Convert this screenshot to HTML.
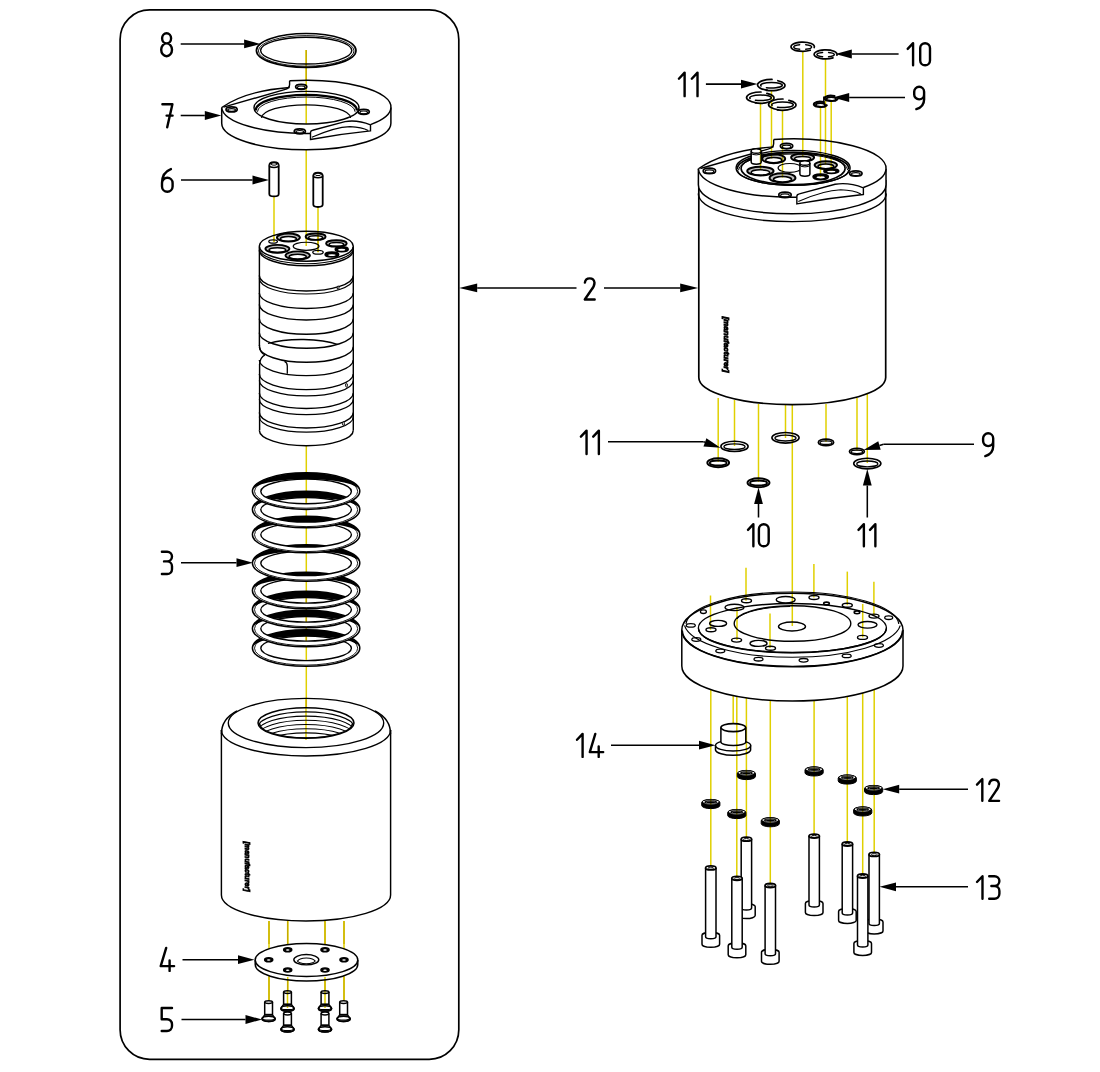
<!DOCTYPE html><html><head><meta charset="utf-8"><style>html,body{margin:0;padding:0;background:#fff;}svg{display:block;}</style></head><body>
<svg width="1100" height="1072" viewBox="0 0 1100 1072">
<rect width="1100" height="1072" fill="#fff"/>
<rect x="120.1" y="9.9" width="338.7" height="1049.4" rx="29.5" ry="29.5" fill="none" stroke="#000" stroke-width="1.7"/>
<line x1="306.2" y1="50" x2="306.2" y2="124" stroke="#e0d000" stroke-width="1.5" style="mix-blend-mode:multiply"/>
<line x1="306.2" y1="150" x2="306.2" y2="232" stroke="#e0d000" stroke-width="1.5" style="mix-blend-mode:multiply"/>
<line x1="306.3" y1="446" x2="306.3" y2="474" stroke="#e0d000" stroke-width="1.5" style="mix-blend-mode:multiply"/>
<line x1="306.3" y1="664" x2="306.3" y2="707" stroke="#e0d000" stroke-width="1.5" style="mix-blend-mode:multiply"/>
<line x1="274" y1="196" x2="274" y2="242" stroke="#e0d000" stroke-width="1.5" style="mix-blend-mode:multiply"/>
<line x1="318" y1="207" x2="318" y2="252" stroke="#e0d000" stroke-width="1.5" style="mix-blend-mode:multiply"/>
<ellipse cx="306.2" cy="50.4" rx="49.8" ry="16.9" fill="none" stroke="#000" stroke-width="1.7" />
<ellipse cx="306.2" cy="50.9" rx="47.8" ry="15.3" fill="none" stroke="#000" stroke-width="0.9" />
<ellipse cx="306.2" cy="50.6" rx="45.6" ry="13.4" fill="none" stroke="#000" stroke-width="1.4" />
<path d="M221.7,107.5 V123.3 A84.6,26.5 0 0 0 390.9,123.3 V107.5" fill="#fff" stroke="#000" stroke-width="1.5" />
<ellipse cx="306.3" cy="107.5" rx="84.6" ry="26.5" fill="#fff" stroke="none" stroke-width="0" />
<path d="M221.7,107.5 C238,96 262,89.5 289.6,87.5" fill="none" stroke="#000" stroke-width="1.4" />
<path d="M223.5,107.2 L284.5,89.6 Q289.6,88.4 289.6,84.5 V80.8" fill="none" stroke="#000" stroke-width="1.4" />
<path d="M289.6,80.8 A84.6,26.5 0 0 1 390.9,107.5 A84.6,26.5 0 0 1 370.5,124.6" fill="none" stroke="#000" stroke-width="1.5" />
<path d="M221.7,107.5 A84.6,26.5 0 0 0 310.5,133.4" fill="none" stroke="#000" stroke-width="1.5" />
<path d="M310.5,132.5 Q310.5,130.8 312.7,130.3 L345,121.6 Q357,119.5 370.5,124.8 V130.9 Q340,134 310.5,139.5 Z" fill="#fff" stroke="#000" stroke-width="1.4" />
<path d="M311.8,137.3 Q335,127 350,126.6 Q362,127 368.2,130.5" fill="none" stroke="#000" stroke-width="1.1" />
<ellipse cx="301.2" cy="86.8" rx="5.6" ry="2.5" fill="none" stroke="#000" stroke-width="1.7" />
<ellipse cx="301.2" cy="87.4" rx="3.9" ry="1.4" fill="none" stroke="#000" stroke-width="1.2" />
<ellipse cx="231.6" cy="109.4" rx="5.6" ry="2.5" fill="none" stroke="#000" stroke-width="1.7" />
<ellipse cx="231.6" cy="110" rx="3.9" ry="1.4" fill="none" stroke="#000" stroke-width="1.2" />
<ellipse cx="363.7" cy="111.8" rx="5.6" ry="2.5" fill="none" stroke="#000" stroke-width="1.7" />
<ellipse cx="363.7" cy="112.4" rx="3.9" ry="1.4" fill="none" stroke="#000" stroke-width="1.2" />
<ellipse cx="299.8" cy="131.3" rx="5.6" ry="2.5" fill="none" stroke="#000" stroke-width="1.7" />
<ellipse cx="299.8" cy="131.9" rx="3.9" ry="1.4" fill="none" stroke="#000" stroke-width="1.2" />
<ellipse cx="306.5" cy="107.7" rx="52.5" ry="16.3" fill="none" stroke="#000" stroke-width="1.45" />
<path d="M255.7,110.5 A50.6,15.6 0 0 1 356.9,110.5" fill="none" stroke="#000" stroke-width="2.4" />
<path d="M257.5,111.8 A48.8,14.8 0 0 1 355.1,111.8" fill="none" stroke="#000" stroke-width="1" />
<path d="M261.6,118 A44.5,13.2 0 0 1 350.6,118" fill="none" stroke="#000" stroke-width="1.3" />
<line x1="306.2" y1="50" x2="306.2" y2="124" stroke="#e0d000" stroke-width="1.5" style="mix-blend-mode:multiply"/>
<path d="M269.3,165.6 V194 A4.7,2.4 0 0 0 278.7,194 V165.6" fill="#fff" stroke="#000" stroke-width="1.8" />
<path d="M269.3,165.6 Q269.3,162.2 274,162.2 Q278.7,162.2 278.7,165.6" fill="#fff" stroke="#000" stroke-width="1.8" />
<path d="M269.3,165.2 A4.7,2.2 0 0 0 278.7,165.2" fill="none" stroke="#000" stroke-width="1.5" />
<ellipse cx="274" cy="164" rx="2.91" ry="1.2" fill="none" stroke="#000" stroke-width="1" />
<path d="M313.3,176 V204.6 A4.7,2.4 0 0 0 322.7,204.6 V176" fill="#fff" stroke="#000" stroke-width="1.8" />
<path d="M313.3,176 Q313.3,172.6 318,172.6 Q322.7,172.6 322.7,176" fill="#fff" stroke="#000" stroke-width="1.8" />
<path d="M313.3,175.6 A4.7,2.2 0 0 0 322.7,175.6" fill="none" stroke="#000" stroke-width="1.5" />
<ellipse cx="318" cy="174.4" rx="2.91" ry="1.2" fill="none" stroke="#000" stroke-width="1" />
<line x1="259.4" y1="247" x2="259.4" y2="346" stroke="#000" stroke-width="1.45"/>
<line x1="259.6" y1="364" x2="259.6" y2="430.2" stroke="#000" stroke-width="1.45"/>
<line x1="353.3" y1="247" x2="353.3" y2="430.2" stroke="#000" stroke-width="1.45"/>
<path d="M259.4,345 Q259.6,352.5 265,355" fill="none" stroke="#000" stroke-width="1.35" />
<path d="M265,354.8 Q259.8,357.5 259.6,364.5" fill="none" stroke="#000" stroke-width="1.35" />
<path d="M259.3,430.2 A47,15.5 0 0 0 353.3,430.2" fill="none" stroke="#000" stroke-width="1.45" />
<ellipse cx="306.3" cy="246.2" rx="47" ry="15" fill="none" stroke="#000" stroke-width="1.5" />
<path d="M259.3,248.5 A47,15.2 0 0 0 353.3,248.5" fill="none" stroke="#000" stroke-width="1.1" />
<path d="M259.3,250.3 A47,15.5 0 0 0 353.3,250.3" fill="none" stroke="#000" stroke-width="1.5" />
<path d="M259.3,275.5 A47,15.5 0 0 0 353.3,275.5" fill="none" stroke="#000" stroke-width="1.4" />
<path d="M259.3,278.5 A47,15.5 0 0 0 353.3,278.5" fill="none" stroke="#000" stroke-width="1.2" />
<path d="M259.3,293 A47,15.5 0 0 0 353.3,293" fill="none" stroke="#000" stroke-width="1.4" />
<path d="M259.3,304.5 A47,15.5 0 0 0 353.3,304.5" fill="none" stroke="#000" stroke-width="1.4" />
<path d="M259.3,318.8 A47,15.5 0 0 0 353.3,318.8" fill="none" stroke="#000" stroke-width="1.4" />
<path d="M259.3,332.8 A47,15.5 0 0 0 353.3,332.8" fill="none" stroke="#000" stroke-width="1.4" />
<path d="M259.3,346.8 A47,15.5 0 0 0 353.3,346.8" fill="none" stroke="#000" stroke-width="1.4" />
<path d="M259.3,360.1 A47,15.5 0 0 0 353.3,360.1" fill="none" stroke="#000" stroke-width="1.4" />
<path d="M259.3,374.1 A47,15.5 0 0 0 353.3,374.1" fill="none" stroke="#000" stroke-width="1.4" />
<path d="M259.3,380.4 A47,15.5 0 0 0 353.3,380.4" fill="none" stroke="#000" stroke-width="1.2" />
<path d="M259.3,393 A47,15.5 0 0 0 353.3,393" fill="none" stroke="#000" stroke-width="1.4" />
<path d="M259.3,399.2 A47,15.5 0 0 0 353.3,399.2" fill="none" stroke="#000" stroke-width="1.2" />
<path d="M259.3,412.5 A47,15.5 0 0 0 353.3,412.5" fill="none" stroke="#000" stroke-width="1.4" />
<path d="M259.3,416.7 A47,15.5 0 0 0 353.3,416.7" fill="none" stroke="#000" stroke-width="1.2" />
<path d="M268,343.5 A47,13.5 0 0 1 338,344.5" fill="none" stroke="#000" stroke-width="1.3" />
<path d="M284.5,361.4 Q287.3,362.5 287.3,366 V373.8" fill="none" stroke="#000" stroke-width="1.3" />
<ellipse cx="338.1" cy="287.8" rx="0.9" ry="1.9" fill="#fff" stroke="#000" stroke-width="1" />
<ellipse cx="346.5" cy="385.2" rx="0.9" ry="1.9" fill="#fff" stroke="#000" stroke-width="1" />
<ellipse cx="343.5" cy="423.7" rx="0.9" ry="1.9" fill="#fff" stroke="#000" stroke-width="1" />
<path d="M276.9,237.6 A11.5,4.05 0 1 1 299.9,237.6 A11.5,4.05 0 1 1 276.9,237.6 Z M280.35,238.9 A8.05,2.43 0 1 0 296.45,238.9 A8.05,2.43 0 1 0 280.35,238.9 Z" fill="#000" stroke="none" stroke-width="0" fill-rule="evenodd" fill-opacity="0.25"/>
<ellipse cx="288.4" cy="237.6" rx="11.5" ry="4.05" fill="none" stroke="#000" stroke-width="1.9" />
<ellipse cx="288.4" cy="238.9" rx="8.05" ry="2.43" fill="none" stroke="#000" stroke-width="1.5" />
<ellipse cx="273.1" cy="241.5" rx="4.3" ry="1.7" fill="none" stroke="#000" stroke-width="1.3" />
<path d="M305.6,236.7 A10,3.2 0 1 1 325.6,236.7 A10,3.2 0 1 1 305.6,236.7 Z M308.6,237.72 A7,1.92 0 1 0 322.6,237.72 A7,1.92 0 1 0 308.6,237.72 Z" fill="#000" stroke="none" stroke-width="0" fill-rule="evenodd" fill-opacity="0.25"/>
<ellipse cx="315.6" cy="236.7" rx="10" ry="3.2" fill="none" stroke="#000" stroke-width="1.9" />
<ellipse cx="315.6" cy="237.72" rx="7" ry="1.92" fill="none" stroke="#000" stroke-width="1.5" />
<path d="M326.1,243.4 A10.3,3.2 0 1 1 346.7,243.4 A10.3,3.2 0 1 1 326.1,243.4 Z M329.19,244.42 A7.21,1.92 0 1 0 343.61,244.42 A7.21,1.92 0 1 0 329.19,244.42 Z" fill="#000" stroke="none" stroke-width="0" fill-rule="evenodd" fill-opacity="0.25"/>
<ellipse cx="336.4" cy="243.4" rx="10.3" ry="3.2" fill="none" stroke="#000" stroke-width="1.9" />
<ellipse cx="336.4" cy="244.42" rx="7.21" ry="1.92" fill="none" stroke="#000" stroke-width="1.5" />
<ellipse cx="341.7" cy="249.3" rx="6.4" ry="2.4" fill="#000" stroke="#000" stroke-width="1.7" />
<ellipse cx="341.7" cy="249.8" rx="3.52" ry="0.96" fill="#fff" stroke="none" stroke-width="0" />
<path d="M265.4,248.8 A12,3.9 0 1 1 289.4,248.8 A12,3.9 0 1 1 265.4,248.8 Z M269,250.05 A8.4,2.34 0 1 0 285.8,250.05 A8.4,2.34 0 1 0 269,250.05 Z" fill="#000" stroke="none" stroke-width="0" fill-rule="evenodd" fill-opacity="0.25"/>
<ellipse cx="277.4" cy="248.8" rx="12" ry="3.9" fill="none" stroke="#000" stroke-width="1.9" />
<ellipse cx="277.4" cy="250.05" rx="8.4" ry="2.34" fill="none" stroke="#000" stroke-width="1.5" />
<path d="M285.5,255.4 A12.2,4.05 0 1 1 309.9,255.4 A12.2,4.05 0 1 1 285.5,255.4 Z M289.16,256.7 A8.54,2.43 0 1 0 306.24,256.7 A8.54,2.43 0 1 0 289.16,256.7 Z" fill="#000" stroke="none" stroke-width="0" fill-rule="evenodd" fill-opacity="0.25"/>
<ellipse cx="297.7" cy="255.4" rx="12.2" ry="4.05" fill="none" stroke="#000" stroke-width="1.9" />
<ellipse cx="297.7" cy="256.7" rx="8.54" ry="2.43" fill="none" stroke="#000" stroke-width="1.5" />
<ellipse cx="318" cy="252.2" rx="5.25" ry="1.9" fill="none" stroke="#000" stroke-width="1.3" />
<ellipse cx="331.9" cy="254.6" rx="6.7" ry="2.4" fill="#000" stroke="#000" stroke-width="1.7" />
<ellipse cx="331.9" cy="255.1" rx="3.69" ry="0.96" fill="#fff" stroke="none" stroke-width="0" />
<ellipse cx="306.1" cy="246.3" rx="12.9" ry="4.05" fill="none" stroke="#000" stroke-width="1.2" />
<line x1="274" y1="238" x2="274" y2="241.5" stroke="#e0d000" stroke-width="1.5" style="mix-blend-mode:multiply"/>
<line x1="306.2" y1="232" x2="306.2" y2="246" stroke="#e0d000" stroke-width="1.5" style="mix-blend-mode:multiply"/>
<line x1="318" y1="232" x2="318" y2="252.2" stroke="#e0d000" stroke-width="1.5" style="mix-blend-mode:multiply"/>
<path d="M252.4,648 A53.7,18.3 0 1 1 359.8,648 A53.7,18.3 0 1 1 252.4,648 Z M260.8,648.3 A45.3,12.3 0 1 0 351.4,648.3 A45.3,12.3 0 1 0 260.8,648.3 Z" fill="#fff" stroke="none" stroke-width="0" fill-rule="evenodd"/>
<path d="M252.4,648 A53.7,18.3 0 0 1 359.8,648 A53.7,12.0 0 0 0 252.4,648 Z" fill="#000" stroke="none" stroke-width="0" />
<ellipse cx="306.1" cy="648" rx="53.7" ry="18.3" fill="none" stroke="#000" stroke-width="1.5" />
<ellipse cx="306.1" cy="648.2" rx="51.6" ry="16.9" fill="none" stroke="#000" stroke-width="0.9" />
<ellipse cx="306.1" cy="648.3" rx="45.3" ry="12.3" fill="none" stroke="#000" stroke-width="1.4" />
<line x1="306.3" y1="636" x2="306.3" y2="660.5" stroke="#e0d000" stroke-width="1.5" style="mix-blend-mode:multiply"/>
<path d="M252.4,628.5 A53.7,18.3 0 1 1 359.8,628.5 A53.7,18.3 0 1 1 252.4,628.5 Z M260.8,628.8 A45.3,12.3 0 1 0 351.4,628.8 A45.3,12.3 0 1 0 260.8,628.8 Z" fill="#fff" stroke="none" stroke-width="0" fill-rule="evenodd"/>
<path d="M252.4,628.5 A53.7,18.3 0 0 1 359.8,628.5 A53.7,12.0 0 0 0 252.4,628.5 Z" fill="#000" stroke="none" stroke-width="0" />
<ellipse cx="306.1" cy="628.5" rx="53.7" ry="18.3" fill="none" stroke="#000" stroke-width="1.5" />
<ellipse cx="306.1" cy="628.7" rx="51.6" ry="16.9" fill="none" stroke="#000" stroke-width="0.9" />
<ellipse cx="306.1" cy="628.8" rx="45.3" ry="12.3" fill="none" stroke="#000" stroke-width="1.4" />
<line x1="306.3" y1="616.5" x2="306.3" y2="641" stroke="#e0d000" stroke-width="1.5" style="mix-blend-mode:multiply"/>
<path d="M252.4,609.5 A53.7,18.3 0 1 1 359.8,609.5 A53.7,18.3 0 1 1 252.4,609.5 Z M260.8,609.8 A45.3,12.3 0 1 0 351.4,609.8 A45.3,12.3 0 1 0 260.8,609.8 Z" fill="#fff" stroke="none" stroke-width="0" fill-rule="evenodd"/>
<path d="M252.4,609.5 A53.7,18.3 0 0 1 359.8,609.5 A53.7,12.0 0 0 0 252.4,609.5 Z" fill="#000" stroke="none" stroke-width="0" />
<ellipse cx="306.1" cy="609.5" rx="53.7" ry="18.3" fill="none" stroke="#000" stroke-width="1.5" />
<ellipse cx="306.1" cy="609.7" rx="51.6" ry="16.9" fill="none" stroke="#000" stroke-width="0.9" />
<ellipse cx="306.1" cy="609.8" rx="45.3" ry="12.3" fill="none" stroke="#000" stroke-width="1.4" />
<line x1="306.3" y1="597.5" x2="306.3" y2="622" stroke="#e0d000" stroke-width="1.5" style="mix-blend-mode:multiply"/>
<path d="M252.4,590.5 A53.7,18.3 0 1 1 359.8,590.5 A53.7,18.3 0 1 1 252.4,590.5 Z M260.8,590.8 A45.3,12.3 0 1 0 351.4,590.8 A45.3,12.3 0 1 0 260.8,590.8 Z" fill="#fff" stroke="none" stroke-width="0" fill-rule="evenodd"/>
<path d="M252.4,590.5 A53.7,18.3 0 0 1 359.8,590.5 A53.7,12.0 0 0 0 252.4,590.5 Z" fill="#000" stroke="none" stroke-width="0" />
<ellipse cx="306.1" cy="590.5" rx="53.7" ry="18.3" fill="none" stroke="#000" stroke-width="1.5" />
<ellipse cx="306.1" cy="590.7" rx="51.6" ry="16.9" fill="none" stroke="#000" stroke-width="0.9" />
<ellipse cx="306.1" cy="590.8" rx="45.3" ry="12.3" fill="none" stroke="#000" stroke-width="1.4" />
<line x1="306.3" y1="578.5" x2="306.3" y2="603" stroke="#e0d000" stroke-width="1.5" style="mix-blend-mode:multiply"/>
<path d="M252.4,563 A53.7,18.3 0 1 1 359.8,563 A53.7,18.3 0 1 1 252.4,563 Z M260.8,563.3 A45.3,12.3 0 1 0 351.4,563.3 A45.3,12.3 0 1 0 260.8,563.3 Z" fill="#fff" stroke="none" stroke-width="0" fill-rule="evenodd"/>
<path d="M252.4,563 A53.7,18.3 0 0 1 359.8,563 A53.7,12.0 0 0 0 252.4,563 Z" fill="#000" stroke="none" stroke-width="0" />
<ellipse cx="306.1" cy="563" rx="53.7" ry="18.3" fill="none" stroke="#000" stroke-width="1.5" />
<ellipse cx="306.1" cy="563.2" rx="51.6" ry="16.9" fill="none" stroke="#000" stroke-width="0.9" />
<ellipse cx="306.1" cy="563.3" rx="45.3" ry="12.3" fill="none" stroke="#000" stroke-width="1.4" />
<line x1="306.3" y1="551" x2="306.3" y2="575.5" stroke="#e0d000" stroke-width="1.5" style="mix-blend-mode:multiply"/>
<path d="M252.4,534.5 A53.7,18.3 0 1 1 359.8,534.5 A53.7,18.3 0 1 1 252.4,534.5 Z M260.8,534.8 A45.3,12.3 0 1 0 351.4,534.8 A45.3,12.3 0 1 0 260.8,534.8 Z" fill="#fff" stroke="none" stroke-width="0" fill-rule="evenodd"/>
<path d="M252.4,534.5 A53.7,18.3 0 0 1 359.8,534.5 A53.7,12.0 0 0 0 252.4,534.5 Z" fill="#000" stroke="none" stroke-width="0" />
<ellipse cx="306.1" cy="534.5" rx="53.7" ry="18.3" fill="none" stroke="#000" stroke-width="1.5" />
<ellipse cx="306.1" cy="534.7" rx="51.6" ry="16.9" fill="none" stroke="#000" stroke-width="0.9" />
<ellipse cx="306.1" cy="534.8" rx="45.3" ry="12.3" fill="none" stroke="#000" stroke-width="1.4" />
<line x1="306.3" y1="522.5" x2="306.3" y2="547" stroke="#e0d000" stroke-width="1.5" style="mix-blend-mode:multiply"/>
<path d="M252.4,509.5 A53.7,18.3 0 1 1 359.8,509.5 A53.7,18.3 0 1 1 252.4,509.5 Z M260.8,509.8 A45.3,12.3 0 1 0 351.4,509.8 A45.3,12.3 0 1 0 260.8,509.8 Z" fill="#fff" stroke="none" stroke-width="0" fill-rule="evenodd"/>
<path d="M252.4,509.5 A53.7,18.3 0 0 1 359.8,509.5 A53.7,12.0 0 0 0 252.4,509.5 Z" fill="#000" stroke="none" stroke-width="0" />
<ellipse cx="306.1" cy="509.5" rx="53.7" ry="18.3" fill="none" stroke="#000" stroke-width="1.5" />
<ellipse cx="306.1" cy="509.7" rx="51.6" ry="16.9" fill="none" stroke="#000" stroke-width="0.9" />
<ellipse cx="306.1" cy="509.8" rx="45.3" ry="12.3" fill="none" stroke="#000" stroke-width="1.4" />
<line x1="306.3" y1="497.5" x2="306.3" y2="522" stroke="#e0d000" stroke-width="1.5" style="mix-blend-mode:multiply"/>
<path d="M252.4,491.1 A53.7,18.3 0 1 1 359.8,491.1 A53.7,18.3 0 1 1 252.4,491.1 Z M260.8,491.4 A45.3,12.3 0 1 0 351.4,491.4 A45.3,12.3 0 1 0 260.8,491.4 Z" fill="#fff" stroke="none" stroke-width="0" fill-rule="evenodd"/>
<path d="M252.4,491.1 A53.7,18.3 0 0 1 359.8,491.1 A53.7,12.0 0 0 0 252.4,491.1 Z" fill="#000" stroke="none" stroke-width="0" />
<ellipse cx="306.1" cy="491.1" rx="53.7" ry="18.3" fill="none" stroke="#000" stroke-width="1.5" />
<ellipse cx="306.1" cy="491.3" rx="51.6" ry="16.9" fill="none" stroke="#000" stroke-width="0.9" />
<ellipse cx="306.1" cy="491.4" rx="45.3" ry="12.3" fill="none" stroke="#000" stroke-width="1.4" />
<line x1="306.3" y1="479.1" x2="306.3" y2="503.6" stroke="#e0d000" stroke-width="1.5" style="mix-blend-mode:multiply"/>
<path d="M221.4,730 V895 A84.6,26 0 0 0 390.6,895 V730" fill="#fff" stroke="#000" stroke-width="1.45" />
<path d="M221.4,730 A84.6,26 0 0 0 390.6,730" fill="none" stroke="#000" stroke-width="1.4" />
<ellipse cx="306" cy="723" rx="77.7" ry="24.6" fill="none" stroke="#000" stroke-width="1.4" />
<path d="M221.5,734 C221.3,724 226,716.5 237,710.8" fill="none" stroke="#000" stroke-width="1.5" />
<path d="M390.5,734 C390.7,724 386,716.5 375,710.8" fill="none" stroke="#000" stroke-width="1.5" />
<ellipse cx="306" cy="723" rx="48" ry="15.3" fill="none" stroke="#000" stroke-width="1.5" />
<clipPath id="boreclip"><ellipse cx="306" cy="723" rx="48" ry="15.3"/></clipPath>
<g clip-path="url(#boreclip)">
<path d="M258,727.2 A48,15.3 0 0 1 354,727.2" fill="none" stroke="#000" stroke-width="1.1" />
<path d="M258,731.4 A48,15.3 0 0 1 354,731.4" fill="none" stroke="#000" stroke-width="1.1" />
<path d="M258,735.6 A48,15.3 0 0 1 354,735.6" fill="none" stroke="#000" stroke-width="1.1" />
<path d="M258,739.8 A48,15.3 0 0 1 354,739.8" fill="none" stroke="#000" stroke-width="1.1" />
<path d="M258,744 A48,15.3 0 0 1 354,744" fill="none" stroke="#000" stroke-width="1.1" />
<path d="M258,748.2 A48,15.3 0 0 1 354,748.2" fill="none" stroke="#000" stroke-width="1.1" />
<path d="M259.5,723.5 A46.5,14.6 0 0 0 352.5,723.5" fill="none" stroke="#000" stroke-width="1.6" />
</g>
<line x1="306" y1="699" x2="306" y2="740" stroke="#e0d000" stroke-width="1.5" style="mix-blend-mode:multiply"/>
<g transform="translate(247.8,866.5) rotate(90)"><text x="-25" y="0" textLength="50" lengthAdjust="spacingAndGlyphs" dominant-baseline="central" font-family="Liberation Sans, sans-serif" font-weight="bold" font-style="italic" font-size="8" fill="#000" stroke="#000" stroke-width="0.9">[manufacturer]</text></g>
<line x1="269" y1="921" x2="269" y2="1010" stroke="#e0d000" stroke-width="1.5" style="mix-blend-mode:multiply"/>
<line x1="287.7" y1="921" x2="287.7" y2="1010" stroke="#e0d000" stroke-width="1.5" style="mix-blend-mode:multiply"/>
<line x1="325" y1="921" x2="325" y2="1010" stroke="#e0d000" stroke-width="1.5" style="mix-blend-mode:multiply"/>
<line x1="344" y1="921" x2="344" y2="1010" stroke="#e0d000" stroke-width="1.5" style="mix-blend-mode:multiply"/>
<path d="M255.2,960 V964.6 A51.3,16.4 0 0 0 357.8,964.6 V960" fill="#fff" stroke="#000" stroke-width="1.45" />
<ellipse cx="306.5" cy="960" rx="51.3" ry="16.4" fill="#fff" stroke="#000" stroke-width="1.5" />
<ellipse cx="306.3" cy="959.7" rx="12.5" ry="5.2" fill="none" stroke="#000" stroke-width="1.4" />
<path d="M297.3,960.5 A9,3.2 0 0 0 315.3,960.5" fill="none" stroke="#000" stroke-width="1.1" />
<path d="M297.8,961.2 A8.5,3.2 0 0 1 314.8,961.2" fill="none" stroke="#000" stroke-width="1.1" />
<ellipse cx="268.7" cy="959.7" rx="4" ry="2" fill="#000" stroke="#000" stroke-width="1.6" />
<ellipse cx="268.7" cy="960" rx="1.8" ry="0.7" fill="#fff" stroke="none" stroke-width="0" />
<ellipse cx="287.7" cy="949.7" rx="4" ry="2" fill="#000" stroke="#000" stroke-width="1.6" />
<ellipse cx="287.7" cy="950" rx="1.8" ry="0.7" fill="#fff" stroke="none" stroke-width="0" />
<ellipse cx="325" cy="949.7" rx="4" ry="2" fill="#000" stroke="#000" stroke-width="1.6" />
<ellipse cx="325" cy="950" rx="1.8" ry="0.7" fill="#fff" stroke="none" stroke-width="0" />
<ellipse cx="344" cy="959.7" rx="4" ry="2" fill="#000" stroke="#000" stroke-width="1.6" />
<ellipse cx="344" cy="960" rx="1.8" ry="0.7" fill="#fff" stroke="none" stroke-width="0" />
<ellipse cx="287.7" cy="970" rx="4" ry="2" fill="#000" stroke="#000" stroke-width="1.6" />
<ellipse cx="287.7" cy="970.3" rx="1.8" ry="0.7" fill="#fff" stroke="none" stroke-width="0" />
<ellipse cx="325" cy="970" rx="4" ry="2" fill="#000" stroke="#000" stroke-width="1.6" />
<ellipse cx="325" cy="970.3" rx="1.8" ry="0.7" fill="#fff" stroke="none" stroke-width="0" />
<line x1="269" y1="921" x2="269" y2="944" stroke="#e0d000" stroke-width="1.5" style="mix-blend-mode:multiply"/>
<line x1="269" y1="977" x2="269" y2="1002" stroke="#e0d000" stroke-width="1.5" style="mix-blend-mode:multiply"/>
<line x1="287.7" y1="921" x2="287.7" y2="944" stroke="#e0d000" stroke-width="1.5" style="mix-blend-mode:multiply"/>
<line x1="287.7" y1="977" x2="287.7" y2="1002" stroke="#e0d000" stroke-width="1.5" style="mix-blend-mode:multiply"/>
<line x1="325" y1="921" x2="325" y2="944" stroke="#e0d000" stroke-width="1.5" style="mix-blend-mode:multiply"/>
<line x1="325" y1="977" x2="325" y2="1002" stroke="#e0d000" stroke-width="1.5" style="mix-blend-mode:multiply"/>
<line x1="344" y1="921" x2="344" y2="944" stroke="#e0d000" stroke-width="1.5" style="mix-blend-mode:multiply"/>
<line x1="344" y1="977" x2="344" y2="1002" stroke="#e0d000" stroke-width="1.5" style="mix-blend-mode:multiply"/>
<path d="M264.7,1002.1 V1014.8 L262,1018.8 A6.6,2.6 0 0 0 275.2,1018.8 L272.5,1014.8 V1002.1" fill="#fff" stroke="#000" stroke-width="1.5" />
<ellipse cx="268.6" cy="1002.1" rx="3.9" ry="1.4" fill="#fff" stroke="#000" stroke-width="1.5" />
<path d="M264.7,1013.8 H272.5 V1015.8 H264.7 Z" fill="#000" stroke="#000" stroke-width="0" />
<path d="M262.4,1018.3 A6.2,1.8 0 0 0 274.8,1018.3" fill="none" stroke="#000" stroke-width="1.2" />
<ellipse cx="268.6" cy="1018.8" rx="6.6" ry="2.6" fill="none" stroke="#000" stroke-width="1.5" />
<path d="M339.7,1002.1 V1014.8 L337,1018.8 A6.6,2.6 0 0 0 350.2,1018.8 L347.5,1014.8 V1002.1" fill="#fff" stroke="#000" stroke-width="1.5" />
<ellipse cx="343.6" cy="1002.1" rx="3.9" ry="1.4" fill="#fff" stroke="#000" stroke-width="1.5" />
<path d="M339.7,1013.8 H347.5 V1015.8 H339.7 Z" fill="#000" stroke="#000" stroke-width="0" />
<path d="M337.4,1018.3 A6.2,1.8 0 0 0 349.8,1018.3" fill="none" stroke="#000" stroke-width="1.2" />
<ellipse cx="343.6" cy="1018.8" rx="6.6" ry="2.6" fill="none" stroke="#000" stroke-width="1.5" />
<path d="M283.6,1013.5 V1025.3 L280.9,1029.3 A6.6,2.6 0 0 0 294.1,1029.3 L291.4,1025.3 V1013.5" fill="#fff" stroke="#000" stroke-width="1.5" />
<ellipse cx="287.5" cy="1013.5" rx="3.9" ry="1.4" fill="#fff" stroke="#000" stroke-width="1.5" />
<path d="M283.6,1024.3 H291.4 V1026.3 H283.6 Z" fill="#000" stroke="#000" stroke-width="0" />
<path d="M281.3,1028.8 A6.2,1.8 0 0 0 293.7,1028.8" fill="none" stroke="#000" stroke-width="1.2" />
<ellipse cx="287.5" cy="1029.3" rx="6.6" ry="2.6" fill="none" stroke="#000" stroke-width="1.5" />
<path d="M283.6,992.1 V1004.4 L280.9,1008.4 A6.6,2.6 0 0 0 294.1,1008.4 L291.4,1004.4 V992.1" fill="#fff" stroke="#000" stroke-width="1.5" />
<ellipse cx="287.5" cy="992.1" rx="3.9" ry="1.4" fill="#fff" stroke="#000" stroke-width="1.5" />
<path d="M283.6,1003.4 H291.4 V1005.4 H283.6 Z" fill="#000" stroke="#000" stroke-width="0" />
<path d="M281.3,1007.9 A6.2,1.8 0 0 0 293.7,1007.9" fill="none" stroke="#000" stroke-width="1.2" />
<ellipse cx="287.5" cy="1008.4" rx="6.6" ry="2.6" fill="none" stroke="#000" stroke-width="1.5" />
<line x1="287.5" y1="990" x2="287.5" y2="1008" stroke="#e0d000" stroke-width="1.5" style="mix-blend-mode:multiply"/>
<path d="M321.1,1013.5 V1025.3 L318.4,1029.3 A6.6,2.6 0 0 0 331.6,1029.3 L328.9,1025.3 V1013.5" fill="#fff" stroke="#000" stroke-width="1.5" />
<ellipse cx="325" cy="1013.5" rx="3.9" ry="1.4" fill="#fff" stroke="#000" stroke-width="1.5" />
<path d="M321.1,1024.3 H328.9 V1026.3 H321.1 Z" fill="#000" stroke="#000" stroke-width="0" />
<path d="M318.8,1028.8 A6.2,1.8 0 0 0 331.2,1028.8" fill="none" stroke="#000" stroke-width="1.2" />
<ellipse cx="325" cy="1029.3" rx="6.6" ry="2.6" fill="none" stroke="#000" stroke-width="1.5" />
<path d="M321.1,992.1 V1004.4 L318.4,1008.4 A6.6,2.6 0 0 0 331.6,1008.4 L328.9,1004.4 V992.1" fill="#fff" stroke="#000" stroke-width="1.5" />
<ellipse cx="325" cy="992.1" rx="3.9" ry="1.4" fill="#fff" stroke="#000" stroke-width="1.5" />
<path d="M321.1,1003.4 H328.9 V1005.4 H321.1 Z" fill="#000" stroke="#000" stroke-width="0" />
<path d="M318.8,1007.9 A6.2,1.8 0 0 0 331.2,1007.9" fill="none" stroke="#000" stroke-width="1.2" />
<ellipse cx="325" cy="1008.4" rx="6.6" ry="2.6" fill="none" stroke="#000" stroke-width="1.5" />
<line x1="325" y1="990" x2="325" y2="1008" stroke="#e0d000" stroke-width="1.5" style="mix-blend-mode:multiply"/>
<path transform="translate(161.2,33.2) scale(1)" d="M5.4,0 A4.5,5.1 0 1 1 5.4,10.2 A4.5,5.1 0 1 1 5.4,0 Z M5.4,10.2 A5.4,6.4 0 1 1 5.4,23 A5.4,6.4 0 1 1 5.4,10.2 Z" fill="none" stroke="#000" stroke-width="2.4" stroke-linecap="round" stroke-linejoin="round"/>
<path transform="translate(162.4,104.3) scale(1)" d="M0,0 H10 L4.8,23 M4.2,11.3 H10.2" fill="none" stroke="#000" stroke-width="2.4" stroke-linecap="round" stroke-linejoin="round"/>
<path transform="translate(162,168.8) scale(1)" d="M8.9,0.3 C3.5,2.3 0,7.5 0,14.3 V17.7 A5.3,5.3 0 0 0 10.6,17.7 V14.3 A5.3,5.3 0 0 0 0,14.3" fill="none" stroke="#000" stroke-width="2.4" stroke-linecap="round" stroke-linejoin="round"/>
<path transform="translate(161.9,551.7) scale(0.97)" d="M0,0 H5.4 A5,5 0 0 1 5.4,10 H2.2 M5.4,10 A5,5 0 0 1 10.4,15 V18 A5,5 0 0 1 5.4,23 H0" fill="none" stroke="#000" stroke-width="2.48" stroke-linecap="round" stroke-linejoin="round"/>
<path transform="translate(160.7,947.9) scale(1)" d="M5.5,0 L0,18.2 H13.4 M8.9,12.6 V23" fill="none" stroke="#000" stroke-width="2.41" stroke-linecap="round" stroke-linejoin="round"/>
<path transform="translate(161.7,1008) scale(1)" d="M10.3,0 H0 V11.2 H5.3 A5,5 0 0 1 10.3,16.2 V18 A5,5 0 0 1 5.3,23 H0" fill="none" stroke="#000" stroke-width="2.4" stroke-linecap="round" stroke-linejoin="round"/>
<line x1="180.7" y1="43.9" x2="244.1" y2="43.9" stroke="#000" stroke-width="1.55"/>
<path d="M260.6,43.9 L244.1,48.3 L244.1,39.5 Z" fill="#000"/>
<line x1="180.7" y1="115.5" x2="204.8" y2="115.5" stroke="#000" stroke-width="1.55"/>
<path d="M221.3,115.5 L204.8,119.9 L204.8,111.1 Z" fill="#000"/>
<line x1="181" y1="180" x2="252.5" y2="180" stroke="#000" stroke-width="1.55"/>
<path d="M269,180 L252.5,184.4 L252.5,175.6 Z" fill="#000"/>
<line x1="181" y1="562.7" x2="236.5" y2="562.7" stroke="#000" stroke-width="1.55"/>
<path d="M253,562.7 L236.5,567.1 L236.5,558.3 Z" fill="#000"/>
<line x1="182.5" y1="959.7" x2="238" y2="959.7" stroke="#000" stroke-width="1.55"/>
<path d="M254.5,959.7 L238,964.1 L238,955.3 Z" fill="#000"/>
<line x1="181.5" y1="1019.5" x2="245.5" y2="1019.5" stroke="#000" stroke-width="1.55"/>
<path d="M262,1019.5 L245.5,1023.9 L245.5,1015.1 Z" fill="#000"/>
<path transform="translate(584.8,277.7) scale(0.95)" d="M0.1,5.2 A5.1,5.2 0 0 1 10.2,5.2 C10.2,8.5 8.8,10.5 6.8,13 L0,23 H10.4" fill="none" stroke="#000" stroke-width="2.53" stroke-linecap="round" stroke-linejoin="round"/>
<line x1="576.5" y1="287.9" x2="477.2" y2="287.9" stroke="#000" stroke-width="1.55"/>
<path d="M459.2,287.9 L477.2,283.5 L477.2,292.3 Z" fill="#000"/>
<line x1="604" y1="287.9" x2="680.2" y2="287.9" stroke="#000" stroke-width="1.55"/>
<path d="M698.2,287.9 L680.2,292.3 L680.2,283.5 Z" fill="#000"/>
<path d="M810.22,50.22 A11.7,4.6 0 1 1 814.22,47.5" fill="none" stroke="#000" stroke-width="1.7" stroke-linecap="round"/>
<path d="M799.66,49.15 A8.89,2.39 0 0 1 799.66,44.65" fill="none" stroke="#000" stroke-width="1.5" stroke-linecap="round"/>
<path d="M805.74,44.65 A8.89,2.39 0 0 1 805.74,49.15" fill="none" stroke="#000" stroke-width="1.5" stroke-linecap="round"/>
<path d="M832.99,57.85 A11.5,4.5 0 1 1 836.93,55.18" fill="none" stroke="#000" stroke-width="1.7" stroke-linecap="round"/>
<path d="M822.61,56.8 A8.74,2.34 0 0 1 822.61,52.4" fill="none" stroke="#000" stroke-width="1.5" stroke-linecap="round"/>
<path d="M828.59,52.4 A8.74,2.34 0 0 1 828.59,56.8" fill="none" stroke="#000" stroke-width="1.5" stroke-linecap="round"/>
<path d="M767.2,90.13 A13.9,5.5 0 0 1 771.99,79.4" fill="none" stroke="#000" stroke-width="1.7" stroke-linecap="round"/>
<path d="M777.88,80.72 A13.6,5.3 0 0 1 766.41,90.31" fill="none" stroke="#000" stroke-width="1.7" stroke-linecap="round"/>
<path d="M761.07,85.92 A10.8,2.8 0 1 1 766.43,87.67" fill="none" stroke="#000" stroke-width="1.5" stroke-linecap="round"/>
<path d="M756.2,102.73 A13.9,5.5 0 0 1 760.99,92" fill="none" stroke="#000" stroke-width="1.7" stroke-linecap="round"/>
<path d="M766.88,93.32 A13.6,5.3 0 0 1 755.41,102.91" fill="none" stroke="#000" stroke-width="1.7" stroke-linecap="round"/>
<path d="M750.07,98.52 A10.8,2.8 0 1 1 755.43,100.27" fill="none" stroke="#000" stroke-width="1.5" stroke-linecap="round"/>
<path d="M778.2,109.73 A13.9,5.5 0 0 1 782.99,99" fill="none" stroke="#000" stroke-width="1.7" stroke-linecap="round"/>
<path d="M788.88,100.32 A13.6,5.3 0 0 1 777.41,109.91" fill="none" stroke="#000" stroke-width="1.7" stroke-linecap="round"/>
<path d="M772.07,105.52 A10.8,2.8 0 1 1 777.43,107.27" fill="none" stroke="#000" stroke-width="1.5" stroke-linecap="round"/>
<path d="M826.7,105.19 A6.6,2.6 0 1 1 823.8,102.05" fill="none" stroke="#000" stroke-width="2.2" stroke-linecap="round"/>
<path d="M816.27,104.98 A4.5,1.4 0 1 1 824.73,104.98" fill="none" stroke="#000" stroke-width="1.8" stroke-linecap="round"/>
<path d="M837.4,99.19 A6.6,2.6 0 1 1 834.5,96.05" fill="none" stroke="#000" stroke-width="2.2" stroke-linecap="round"/>
<path d="M826.97,98.98 A4.5,1.4 0 1 1 835.43,98.98" fill="none" stroke="#000" stroke-width="1.8" stroke-linecap="round"/>
<line x1="823.8" y1="96.5" x2="823.8" y2="104.5" stroke="#000" stroke-width="1.4"/>
<path d="M698.8,180 V377.6 A93.45,27 0 0 0 885.7,377.6 V180" fill="#fff" stroke="#000" stroke-width="1.7" />
<path d="M698.3,193.6 A94,28 0 0 0 886.3,193.6" fill="none" stroke="#000" stroke-width="1.4" />
<g transform="translate(726,344.5) rotate(90)"><text x="-27.75" y="0" textLength="55.5" lengthAdjust="spacingAndGlyphs" dominant-baseline="central" font-family="Liberation Sans, sans-serif" font-weight="bold" font-style="italic" font-size="8" fill="#000" stroke="#000" stroke-width="0.9">[manufacturer]</text></g>
<path d="M698.4,168.8 V184.8 A93.8,29.07 0 0 0 886,184.8 V168.8" fill="#fff" stroke="#000" stroke-width="1.5" />
<ellipse cx="792.2" cy="168.8" rx="93.8" ry="29.07" fill="#fff" stroke="none" stroke-width="0" />
<path d="M698.4,168.8 C716.47,156.18 743.08,149.05 773.68,146.86" fill="none" stroke="#000" stroke-width="1.4" />
<path d="M700.4,168.47 L768.03,149.16 Q773.68,147.85 773.68,143.57 V139.51" fill="none" stroke="#000" stroke-width="1.4" />
<path d="M773.68,139.51 A93.8,29.07 0 0 1 886,168.8 A93.8,29.07 0 0 1 863.38,187.56" fill="none" stroke="#000" stroke-width="1.5" />
<path d="M698.4,168.8 A93.8,29.07 0 0 0 796.86,197.21" fill="none" stroke="#000" stroke-width="1.5" />
<path d="M796.86,196.23 Q796.86,194.36 799.3,193.81 L835.11,184.27 Q848.41,181.96 863.38,187.78 V194.47 Q829.56,197.87 796.86,203.9 Z" fill="#fff" stroke="#000" stroke-width="1.4" />
<path d="M798.3,201.49 Q824.02,190.19 840.65,189.75 Q853.96,190.19 860.83,194.03" fill="none" stroke="#000" stroke-width="1.1" />
<ellipse cx="786.55" cy="146.09" rx="6.21" ry="2.74" fill="none" stroke="#000" stroke-width="1.7" />
<ellipse cx="786.55" cy="146.69" rx="4.32" ry="1.54" fill="none" stroke="#000" stroke-width="1.2" />
<ellipse cx="709.38" cy="170.88" rx="6.21" ry="2.74" fill="none" stroke="#000" stroke-width="1.7" />
<ellipse cx="709.38" cy="171.48" rx="4.32" ry="1.54" fill="none" stroke="#000" stroke-width="1.2" />
<ellipse cx="855.84" cy="173.52" rx="6.21" ry="2.74" fill="none" stroke="#000" stroke-width="1.7" />
<ellipse cx="855.84" cy="174.12" rx="4.32" ry="1.54" fill="none" stroke="#000" stroke-width="1.2" />
<ellipse cx="784.99" cy="194.91" rx="6.21" ry="2.74" fill="none" stroke="#000" stroke-width="1.7" />
<ellipse cx="784.99" cy="195.51" rx="4.32" ry="1.54" fill="none" stroke="#000" stroke-width="1.2" />
<ellipse cx="793.1" cy="167.9" rx="57" ry="17.5" fill="none" stroke="#000" stroke-width="1.4" />
<path d="M737.3,169 A55.8,16.8 0 0 1 848.9,169" fill="none" stroke="#000" stroke-width="1.6" />
<path d="M738.6,170 A54.5,16 0 0 1 847.6,170" fill="none" stroke="#000" stroke-width="1" />
<ellipse cx="793.1" cy="168.6" rx="52" ry="16" fill="none" stroke="#000" stroke-width="1.6" />
<path d="M737.6,169.6 A55.5,15.8 0 0 0 848.6,169.6" fill="none" stroke="#000" stroke-width="1.1" />
<path d="M762.2,158.8 A11.5,4.4 0 1 1 785.2,158.8 A11.5,4.4 0 1 1 762.2,158.8 Z M765.65,160.21 A8.05,2.64 0 1 0 781.75,160.21 A8.05,2.64 0 1 0 765.65,160.21 Z" fill="#000" stroke="none" stroke-width="0" fill-rule="evenodd" fill-opacity="0.25"/>
<ellipse cx="773.7" cy="158.8" rx="11.5" ry="4.4" fill="none" stroke="#000" stroke-width="1.9" />
<ellipse cx="773.7" cy="160.21" rx="8.05" ry="2.64" fill="none" stroke="#000" stroke-width="1.5" />
<path d="M791.1,157.5 A11.5,3.9 0 1 1 814.1,157.5 A11.5,3.9 0 1 1 791.1,157.5 Z M794.55,158.75 A8.05,2.34 0 1 0 810.65,158.75 A8.05,2.34 0 1 0 794.55,158.75 Z" fill="#000" stroke="none" stroke-width="0" fill-rule="evenodd" fill-opacity="0.25"/>
<ellipse cx="802.6" cy="157.5" rx="11.5" ry="3.9" fill="none" stroke="#000" stroke-width="1.9" />
<ellipse cx="802.6" cy="158.75" rx="8.05" ry="2.34" fill="none" stroke="#000" stroke-width="1.5" />
<path d="M814.6,165.1 A11.2,3.9 0 1 1 837,165.1 A11.2,3.9 0 1 1 814.6,165.1 Z M817.96,166.35 A7.84,2.34 0 1 0 833.64,166.35 A7.84,2.34 0 1 0 817.96,166.35 Z" fill="#000" stroke="none" stroke-width="0" fill-rule="evenodd" fill-opacity="0.25"/>
<ellipse cx="825.8" cy="165.1" rx="11.2" ry="3.9" fill="none" stroke="#000" stroke-width="1.9" />
<ellipse cx="825.8" cy="166.35" rx="7.84" ry="2.34" fill="none" stroke="#000" stroke-width="1.5" />
<ellipse cx="831.3" cy="171.1" rx="7.4" ry="2.3" fill="#000" stroke="#000" stroke-width="1.7" />
<ellipse cx="831.3" cy="171.6" rx="4.07" ry="0.92" fill="#fff" stroke="none" stroke-width="0" />
<path d="M747.2,171.1 A13.2,4.4 0 1 1 773.6,171.1 A13.2,4.4 0 1 1 747.2,171.1 Z M751.16,172.51 A9.24,2.64 0 1 0 769.64,172.51 A9.24,2.64 0 1 0 751.16,172.51 Z" fill="#000" stroke="none" stroke-width="0" fill-rule="evenodd" fill-opacity="0.25"/>
<ellipse cx="760.4" cy="171.1" rx="13.2" ry="4.4" fill="none" stroke="#000" stroke-width="1.9" />
<ellipse cx="760.4" cy="172.51" rx="9.24" ry="2.64" fill="none" stroke="#000" stroke-width="1.5" />
<path d="M769.5,177.9 A13,4.6 0 1 1 795.5,177.9 A13,4.6 0 1 1 769.5,177.9 Z M773.4,179.37 A9.1,2.76 0 1 0 791.6,179.37 A9.1,2.76 0 1 0 773.4,179.37 Z" fill="#000" stroke="none" stroke-width="0" fill-rule="evenodd" fill-opacity="0.25"/>
<ellipse cx="782.5" cy="177.9" rx="13" ry="4.6" fill="none" stroke="#000" stroke-width="1.9" />
<ellipse cx="782.5" cy="179.37" rx="9.1" ry="2.76" fill="none" stroke="#000" stroke-width="1.5" />
<ellipse cx="820.7" cy="176.8" rx="7.6" ry="2.8" fill="#000" stroke="#000" stroke-width="1.7" />
<ellipse cx="820.7" cy="177.3" rx="4.18" ry="1.12" fill="#fff" stroke="none" stroke-width="0" />
<ellipse cx="789.8" cy="167.9" rx="11.7" ry="4.4" fill="none" stroke="#000" stroke-width="1.2" />
<path d="M751.2,151 V162 A5,2.2 0 0 0 761.2,162 V151" fill="#fff" stroke="#000" stroke-width="1.5" />
<ellipse cx="756.2" cy="151" rx="5" ry="2.2" fill="#fff" stroke="#000" stroke-width="1.4" />
<path d="M751.2,152.9 A5,2 0 0 0 761.2,152.9" fill="none" stroke="#000" stroke-width="1" />
<path d="M799.9,163 V174 A5,2.2 0 0 0 809.9,174 V163" fill="#fff" stroke="#000" stroke-width="1.5" />
<ellipse cx="804.9" cy="163" rx="5" ry="2.2" fill="#fff" stroke="#000" stroke-width="1.4" />
<path d="M799.9,164.9 A5,2 0 0 0 809.9,164.9" fill="none" stroke="#000" stroke-width="1" />
<ellipse cx="734.5" cy="446.4" rx="13.6" ry="5.1" fill="#fff" stroke="#000" stroke-width="1.6" />
<ellipse cx="734.5" cy="446.7" rx="10.61" ry="2.81" fill="none" stroke="#000" stroke-width="1.3" />
<ellipse cx="718.2" cy="462.7" rx="10.9" ry="4.5" fill="#fff" stroke="#000" stroke-width="1.9" />
<ellipse cx="718.2" cy="463" rx="8.5" ry="2.48" fill="none" stroke="#000" stroke-width="1.8" />
<ellipse cx="785.5" cy="437.8" rx="13.6" ry="5.3" fill="#fff" stroke="#000" stroke-width="1.6" />
<ellipse cx="785.5" cy="438.1" rx="10.61" ry="2.92" fill="none" stroke="#000" stroke-width="1.3" />
<ellipse cx="826" cy="442.4" rx="7.7" ry="3.3" fill="#fff" stroke="#000" stroke-width="1.6" />
<ellipse cx="826" cy="442.7" rx="6.01" ry="1.81" fill="none" stroke="#000" stroke-width="1.3" />
<ellipse cx="856.9" cy="451.5" rx="7.5" ry="3.3" fill="#fff" stroke="#000" stroke-width="1.6" />
<ellipse cx="856.9" cy="451.8" rx="5.85" ry="1.81" fill="none" stroke="#000" stroke-width="1.3" />
<ellipse cx="867.3" cy="463.6" rx="13.6" ry="5.3" fill="#fff" stroke="#000" stroke-width="1.6" />
<ellipse cx="867.3" cy="463.9" rx="10.61" ry="2.92" fill="none" stroke="#000" stroke-width="1.3" />
<ellipse cx="758.5" cy="482.7" rx="11" ry="4.5" fill="#fff" stroke="#000" stroke-width="1.9" />
<ellipse cx="758.5" cy="483" rx="8.58" ry="2.48" fill="none" stroke="#000" stroke-width="1.8" />
<path d="M681.8,630 V666 A110.6,35 0 0 0 903,666 V630" fill="#fff" stroke="#000" stroke-width="1.5" />
<ellipse cx="792.4" cy="630" rx="110.6" ry="36.8" fill="#fff" stroke="#000" stroke-width="1.5" />
<path d="M682.4,630.5 A110,35.8 0 0 0 902.4,630.5" fill="none" stroke="#000" stroke-width="1.3" />
<path d="M684.5,625.5 A108.5,35.5 0 0 0 900.3,625.5" fill="none" stroke="#000" stroke-width="1.1" />
<path d="M698.4,628 A94,24.5 0 0 0 886.4,628" fill="none" stroke="#000" stroke-width="1.1" />
<path d="M686,624 A106.5,33.5 0 0 1 898.8,624" fill="none" stroke="#000" stroke-width="1.1" />
<ellipse cx="792.4" cy="628" rx="94" ry="24.5" fill="none" stroke="#000" stroke-width="1.4" />
<path d="M698.9,629.5 A93.5,23.5 0 0 0 885.9,629.5" fill="none" stroke="#000" stroke-width="1" />
<ellipse cx="792.5" cy="623.5" rx="58.3" ry="17.8" fill="none" stroke="#000" stroke-width="1.4" />
<path d="M737,619 A56,16 0 0 1 790,606.5" fill="none" stroke="#000" stroke-width="1" />
<ellipse cx="792" cy="626.5" rx="13.5" ry="4.5" fill="none" stroke="#000" stroke-width="1.4" />
<ellipse cx="785.7" cy="599.7" rx="9.5" ry="3.2" fill="none" stroke="#000" stroke-width="1.4" />
<ellipse cx="734.5" cy="607.4" rx="9.5" ry="3.2" fill="none" stroke="#000" stroke-width="1.4" />
<ellipse cx="718.1" cy="623.4" rx="8.5" ry="3" fill="none" stroke="#000" stroke-width="1.4" />
<ellipse cx="758.5" cy="643.4" rx="8.5" ry="3" fill="none" stroke="#000" stroke-width="1.4" />
<ellipse cx="867.5" cy="624.8" rx="9.5" ry="3.3" fill="none" stroke="#000" stroke-width="1.4" />
<ellipse cx="746.5" cy="600.8" rx="5" ry="2" fill="none" stroke="#000" stroke-width="1.4" />
<ellipse cx="711" cy="629.7" rx="5" ry="2" fill="none" stroke="#000" stroke-width="1.4" />
<ellipse cx="736.6" cy="640.1" rx="5" ry="2" fill="none" stroke="#000" stroke-width="1.4" />
<ellipse cx="770.5" cy="648.3" rx="5" ry="2" fill="none" stroke="#000" stroke-width="1.4" />
<ellipse cx="814" cy="597.5" rx="5" ry="2" fill="none" stroke="#000" stroke-width="1.4" />
<ellipse cx="847.3" cy="605.2" rx="5" ry="2" fill="none" stroke="#000" stroke-width="1.4" />
<ellipse cx="874" cy="616.1" rx="5" ry="2" fill="none" stroke="#000" stroke-width="1.4" />
<ellipse cx="862.5" cy="637.4" rx="5" ry="2" fill="none" stroke="#000" stroke-width="1.4" />
<ellipse cx="826.5" cy="603.5" rx="2.8" ry="1.4" fill="none" stroke="#000" stroke-width="1.6" />
<ellipse cx="857" cy="612.3" rx="2.8" ry="1.4" fill="none" stroke="#000" stroke-width="1.6" />
<ellipse cx="690.8" cy="625.4" rx="4.5" ry="1.8" fill="none" stroke="#000" stroke-width="1.3" />
<ellipse cx="696.3" cy="639.5" rx="4.5" ry="1.8" fill="none" stroke="#000" stroke-width="1.3" />
<ellipse cx="720.3" cy="651" rx="4.5" ry="1.8" fill="none" stroke="#000" stroke-width="1.3" />
<ellipse cx="758.5" cy="659.2" rx="4.5" ry="1.8" fill="none" stroke="#000" stroke-width="1.3" />
<ellipse cx="803.6" cy="660.3" rx="4.5" ry="1.8" fill="none" stroke="#000" stroke-width="1.3" />
<ellipse cx="846.7" cy="655.9" rx="4.5" ry="1.8" fill="none" stroke="#000" stroke-width="1.3" />
<ellipse cx="878.9" cy="645.5" rx="4.5" ry="1.8" fill="none" stroke="#000" stroke-width="1.3" />
<ellipse cx="888.7" cy="617.7" rx="4" ry="1.8" fill="none" stroke="#000" stroke-width="1.3" />
<ellipse cx="703.4" cy="611.7" rx="3" ry="1.8" fill="none" stroke="#000" stroke-width="1.3" />
<path d="M715.5,745.5 V750 A17.6,5.8 0 0 0 750.6,750 V745.5" fill="#fff" stroke="#000" stroke-width="1.5" />
<ellipse cx="733.1" cy="745.5" rx="17.6" ry="5.5" fill="#fff" stroke="#000" stroke-width="1.5" />
<path d="M720.9,727.6 V742 A12.4,3.6 0 0 0 745.8,742 V727.6" fill="#fff" stroke="#000" stroke-width="1.5" />
<ellipse cx="733.3" cy="727.6" rx="12.4" ry="4" fill="#fff" stroke="#000" stroke-width="1.6" />
<path d="M701.7,802.6 V805.4 A9.1,3.2 0 0 0 719.9,805.4 V802.6 A9.1,3.2 0 0 0 701.7,802.6 Z" fill="#000" stroke="#000" stroke-width="1" />
<ellipse cx="710.8" cy="802" rx="8.8" ry="3" fill="#000" stroke="none" stroke-width="0" />
<ellipse cx="710.8" cy="802.1" rx="7.1" ry="2" fill="none" stroke="#fff" stroke-width="0.7" stroke-opacity="0.55"/>
<ellipse cx="710.8" cy="802.4" rx="4.6" ry="1.3" fill="none" stroke="#fff" stroke-width="0.6" stroke-opacity="0.45"/>
<ellipse cx="703.9" cy="801.8" rx="1" ry="0.8" fill="#fff" stroke="none" stroke-width="0" />
<ellipse cx="717.7" cy="801.8" rx="1" ry="0.8" fill="#fff" stroke="none" stroke-width="0" />
<path d="M737.3,773.6 V776.4 A9.1,3.2 0 0 0 755.5,776.4 V773.6 A9.1,3.2 0 0 0 737.3,773.6 Z" fill="#000" stroke="#000" stroke-width="1" />
<ellipse cx="746.4" cy="773" rx="8.8" ry="3" fill="#000" stroke="none" stroke-width="0" />
<ellipse cx="746.4" cy="773.1" rx="7.1" ry="2" fill="none" stroke="#fff" stroke-width="0.7" stroke-opacity="0.55"/>
<ellipse cx="746.4" cy="773.4" rx="4.6" ry="1.3" fill="none" stroke="#fff" stroke-width="0.6" stroke-opacity="0.45"/>
<ellipse cx="739.5" cy="772.8" rx="1" ry="0.8" fill="#fff" stroke="none" stroke-width="0" />
<ellipse cx="753.3" cy="772.8" rx="1" ry="0.8" fill="#fff" stroke="none" stroke-width="0" />
<path d="M727.7,812.6 V815.4 A9.1,3.2 0 0 0 745.9,815.4 V812.6 A9.1,3.2 0 0 0 727.7,812.6 Z" fill="#000" stroke="#000" stroke-width="1" />
<ellipse cx="736.8" cy="812" rx="8.8" ry="3" fill="#000" stroke="none" stroke-width="0" />
<ellipse cx="736.8" cy="812.1" rx="7.1" ry="2" fill="none" stroke="#fff" stroke-width="0.7" stroke-opacity="0.55"/>
<ellipse cx="736.8" cy="812.4" rx="4.6" ry="1.3" fill="none" stroke="#fff" stroke-width="0.6" stroke-opacity="0.45"/>
<ellipse cx="729.9" cy="811.8" rx="1" ry="0.8" fill="#fff" stroke="none" stroke-width="0" />
<ellipse cx="743.7" cy="811.8" rx="1" ry="0.8" fill="#fff" stroke="none" stroke-width="0" />
<path d="M761.2,820.8 V823.6 A9.1,3.2 0 0 0 779.4,823.6 V820.8 A9.1,3.2 0 0 0 761.2,820.8 Z" fill="#000" stroke="#000" stroke-width="1" />
<ellipse cx="770.3" cy="820.2" rx="8.8" ry="3" fill="#000" stroke="none" stroke-width="0" />
<ellipse cx="770.3" cy="820.3" rx="7.1" ry="2" fill="none" stroke="#fff" stroke-width="0.7" stroke-opacity="0.55"/>
<ellipse cx="770.3" cy="820.6" rx="4.6" ry="1.3" fill="none" stroke="#fff" stroke-width="0.6" stroke-opacity="0.45"/>
<ellipse cx="763.4" cy="820" rx="1" ry="0.8" fill="#fff" stroke="none" stroke-width="0" />
<ellipse cx="777.2" cy="820" rx="1" ry="0.8" fill="#fff" stroke="none" stroke-width="0" />
<path d="M805,770 V772.8 A9.1,3.2 0 0 0 823.2,772.8 V770 A9.1,3.2 0 0 0 805,770 Z" fill="#000" stroke="#000" stroke-width="1" />
<ellipse cx="814.1" cy="769.4" rx="8.8" ry="3" fill="#000" stroke="none" stroke-width="0" />
<ellipse cx="814.1" cy="769.5" rx="7.1" ry="2" fill="none" stroke="#fff" stroke-width="0.7" stroke-opacity="0.55"/>
<ellipse cx="814.1" cy="769.8" rx="4.6" ry="1.3" fill="none" stroke="#fff" stroke-width="0.6" stroke-opacity="0.45"/>
<ellipse cx="807.2" cy="769.2" rx="1" ry="0.8" fill="#fff" stroke="none" stroke-width="0" />
<ellipse cx="821" cy="769.2" rx="1" ry="0.8" fill="#fff" stroke="none" stroke-width="0" />
<path d="M838.2,778.1 V780.9 A9.1,3.2 0 0 0 856.4,780.9 V778.1 A9.1,3.2 0 0 0 838.2,778.1 Z" fill="#000" stroke="#000" stroke-width="1" />
<ellipse cx="847.3" cy="777.5" rx="8.8" ry="3" fill="#000" stroke="none" stroke-width="0" />
<ellipse cx="847.3" cy="777.6" rx="7.1" ry="2" fill="none" stroke="#fff" stroke-width="0.7" stroke-opacity="0.55"/>
<ellipse cx="847.3" cy="777.9" rx="4.6" ry="1.3" fill="none" stroke="#fff" stroke-width="0.6" stroke-opacity="0.45"/>
<ellipse cx="840.4" cy="777.3" rx="1" ry="0.8" fill="#fff" stroke="none" stroke-width="0" />
<ellipse cx="854.2" cy="777.3" rx="1" ry="0.8" fill="#fff" stroke="none" stroke-width="0" />
<path d="M853.6,810 V812.8 A9.1,3.2 0 0 0 871.8,812.8 V810 A9.1,3.2 0 0 0 853.6,810 Z" fill="#000" stroke="#000" stroke-width="1" />
<ellipse cx="862.7" cy="809.4" rx="8.8" ry="3" fill="#000" stroke="none" stroke-width="0" />
<ellipse cx="862.7" cy="809.5" rx="7.1" ry="2" fill="none" stroke="#fff" stroke-width="0.7" stroke-opacity="0.55"/>
<ellipse cx="862.7" cy="809.8" rx="4.6" ry="1.3" fill="none" stroke="#fff" stroke-width="0.6" stroke-opacity="0.45"/>
<ellipse cx="855.8" cy="809.2" rx="1" ry="0.8" fill="#fff" stroke="none" stroke-width="0" />
<ellipse cx="869.6" cy="809.2" rx="1" ry="0.8" fill="#fff" stroke="none" stroke-width="0" />
<path d="M864.5,788.6 V791.4 A9.1,3.2 0 0 0 882.7,791.4 V788.6 A9.1,3.2 0 0 0 864.5,788.6 Z" fill="#000" stroke="#000" stroke-width="1" />
<ellipse cx="873.6" cy="788" rx="8.8" ry="3" fill="#000" stroke="none" stroke-width="0" />
<ellipse cx="873.6" cy="788.1" rx="7.1" ry="2" fill="none" stroke="#fff" stroke-width="0.7" stroke-opacity="0.55"/>
<ellipse cx="873.6" cy="788.4" rx="4.6" ry="1.3" fill="none" stroke="#fff" stroke-width="0.6" stroke-opacity="0.45"/>
<ellipse cx="866.7" cy="787.8" rx="1" ry="0.8" fill="#fff" stroke="none" stroke-width="0" />
<ellipse cx="880.5" cy="787.8" rx="1" ry="0.8" fill="#fff" stroke="none" stroke-width="0" />
<path d="M737.6,906.6 V915.6 A8.8,3 0 0 0 755.2,915.6 V906.6 A8.8,3 0 0 0 737.6,906.6 Z" fill="#fff" stroke="#000" stroke-width="1.5" />
<path d="M741.2,839.2 V908.1 A5.2,2 0 0 0 751.6,908.1 V839.2" fill="#fff" stroke="#000" stroke-width="1.5" />
<ellipse cx="746.4" cy="839.2" rx="5.2" ry="2" fill="#fff" stroke="#000" stroke-width="1.8" />
<ellipse cx="746.4" cy="839.5" rx="2.86" ry="1" fill="none" stroke="#000" stroke-width="0.9" />
<path d="M728.2,945.8 V954.8 A8.8,3 0 0 0 745.8,954.8 V945.8 A8.8,3 0 0 0 728.2,945.8 Z" fill="#fff" stroke="#000" stroke-width="1.5" />
<path d="M731.8,878.3 V947.3 A5.2,2 0 0 0 742.2,947.3 V878.3" fill="#fff" stroke="#000" stroke-width="1.5" />
<ellipse cx="737" cy="878.3" rx="5.2" ry="2" fill="#fff" stroke="#000" stroke-width="1.8" />
<ellipse cx="737" cy="878.6" rx="2.86" ry="1" fill="none" stroke="#000" stroke-width="0.9" />
<path d="M702,935.3 V944.3 A8.8,3 0 0 0 719.6,944.3 V935.3 A8.8,3 0 0 0 702,935.3 Z" fill="#fff" stroke="#000" stroke-width="1.5" />
<path d="M705.6,867.9 V936.8 A5.2,2 0 0 0 716,936.8 V867.9" fill="#fff" stroke="#000" stroke-width="1.5" />
<ellipse cx="710.8" cy="867.9" rx="5.2" ry="2" fill="#fff" stroke="#000" stroke-width="1.8" />
<ellipse cx="710.8" cy="868.2" rx="2.86" ry="1" fill="none" stroke="#000" stroke-width="0.9" />
<path d="M761.5,952.3 V961.3 A8.8,3 0 0 0 779.1,961.3 V952.3 A8.8,3 0 0 0 761.5,952.3 Z" fill="#fff" stroke="#000" stroke-width="1.5" />
<path d="M765.1,885.5 V953.8 A5.2,2 0 0 0 775.5,953.8 V885.5" fill="#fff" stroke="#000" stroke-width="1.5" />
<ellipse cx="770.3" cy="885.5" rx="5.2" ry="2" fill="#fff" stroke="#000" stroke-width="1.8" />
<ellipse cx="770.3" cy="885.8" rx="2.86" ry="1" fill="none" stroke="#000" stroke-width="0.9" />
<path d="M805.4,903.5 V912.5 A8.8,3 0 0 0 823,912.5 V903.5 A8.8,3 0 0 0 805.4,903.5 Z" fill="#fff" stroke="#000" stroke-width="1.5" />
<path d="M809,836.1 V905 A5.2,2 0 0 0 819.4,905 V836.1" fill="#fff" stroke="#000" stroke-width="1.5" />
<ellipse cx="814.2" cy="836.1" rx="5.2" ry="2" fill="#fff" stroke="#000" stroke-width="1.8" />
<ellipse cx="814.2" cy="836.4" rx="2.86" ry="1" fill="none" stroke="#000" stroke-width="0.9" />
<path d="M838.6,911.4 V920.4 A8.8,3 0 0 0 856.2,920.4 V911.4 A8.8,3 0 0 0 838.6,911.4 Z" fill="#fff" stroke="#000" stroke-width="1.5" />
<path d="M842.2,844 V912.9 A5.2,2 0 0 0 852.6,912.9 V844" fill="#fff" stroke="#000" stroke-width="1.5" />
<ellipse cx="847.4" cy="844" rx="5.2" ry="2" fill="#fff" stroke="#000" stroke-width="1.8" />
<ellipse cx="847.4" cy="844.3" rx="2.86" ry="1" fill="none" stroke="#000" stroke-width="0.9" />
<path d="M865.4,921.9 V930.9 A8.8,3 0 0 0 883,930.9 V921.9 A8.8,3 0 0 0 865.4,921.9 Z" fill="#fff" stroke="#000" stroke-width="1.5" />
<path d="M869,854.4 V923.4 A5.2,2 0 0 0 879.4,923.4 V854.4" fill="#fff" stroke="#000" stroke-width="1.5" />
<ellipse cx="874.2" cy="854.4" rx="5.2" ry="2" fill="#fff" stroke="#000" stroke-width="1.8" />
<ellipse cx="874.2" cy="854.7" rx="2.86" ry="1" fill="none" stroke="#000" stroke-width="0.9" />
<path d="M853.9,943.4 V952.4 A8.8,3 0 0 0 871.5,952.4 V943.4 A8.8,3 0 0 0 853.9,943.4 Z" fill="#fff" stroke="#000" stroke-width="1.5" />
<path d="M857.5,876 V944.9 A5.2,2 0 0 0 867.9,944.9 V876" fill="#fff" stroke="#000" stroke-width="1.5" />
<ellipse cx="862.7" cy="876" rx="5.2" ry="2" fill="#fff" stroke="#000" stroke-width="1.8" />
<ellipse cx="862.7" cy="876.3" rx="2.86" ry="1" fill="none" stroke="#000" stroke-width="0.9" />
<path transform="translate(907.7,43.2) scale(0.96)" d="M0,5.9 L5.6,0 V23" fill="none" stroke="#000" stroke-width="2.5" stroke-linecap="round" stroke-linejoin="round"/>
<path transform="translate(920.2,43.2) scale(0.96)" d="M0,5.1 A5.1,5.1 0 0 1 10.2,5.1 V17.9 A5.1,5.1 0 0 1 0,17.9 Z" fill="none" stroke="#000" stroke-width="2.5" stroke-linecap="round" stroke-linejoin="round"/>
<path transform="translate(678.9,72.7) scale(1.02)" d="M0,5.9 L5.6,0 V23" fill="none" stroke="#000" stroke-width="2.36" stroke-linecap="round" stroke-linejoin="round"/>
<path transform="translate(691.8,72.7) scale(1.02)" d="M0,5.9 L5.6,0 V23" fill="none" stroke="#000" stroke-width="2.36" stroke-linecap="round" stroke-linejoin="round"/>
<path transform="translate(914.2,86.8) scale(0.97)" d="M10.2,7.9 A5.1,5.1 0 0 1 0,7.9 V5.1 A5.1,5.1 0 0 1 10.2,5.1 V13 C10.2,17.5 7.5,21.3 2.2,23" fill="none" stroke="#000" stroke-width="2.49" stroke-linecap="round" stroke-linejoin="round"/>
<path transform="translate(580.9,430.7) scale(1.01)" d="M0,5.9 L5.6,0 V23" fill="none" stroke="#000" stroke-width="2.38" stroke-linecap="round" stroke-linejoin="round"/>
<path transform="translate(593.2,430.7) scale(1.01)" d="M0,5.9 L5.6,0 V23" fill="none" stroke="#000" stroke-width="2.38" stroke-linecap="round" stroke-linejoin="round"/>
<path transform="translate(983.1,433.3) scale(0.99)" d="M10.2,7.9 A5.1,5.1 0 0 1 0,7.9 V5.1 A5.1,5.1 0 0 1 10.2,5.1 V13 C10.2,17.5 7.5,21.3 2.2,23" fill="none" stroke="#000" stroke-width="2.42" stroke-linecap="round" stroke-linejoin="round"/>
<path transform="translate(748,524.2) scale(0.96)" d="M0,5.9 L5.6,0 V23" fill="none" stroke="#000" stroke-width="2.5" stroke-linecap="round" stroke-linejoin="round"/>
<path transform="translate(758.9,524.2) scale(0.96)" d="M0,5.1 A5.1,5.1 0 0 1 10.2,5.1 V17.9 A5.1,5.1 0 0 1 0,17.9 Z" fill="none" stroke="#000" stroke-width="2.5" stroke-linecap="round" stroke-linejoin="round"/>
<path transform="translate(858.5,524.2) scale(0.96)" d="M0,5.9 L5.6,0 V23" fill="none" stroke="#000" stroke-width="2.5" stroke-linecap="round" stroke-linejoin="round"/>
<path transform="translate(870,524.2) scale(0.96)" d="M0,5.9 L5.6,0 V23" fill="none" stroke="#000" stroke-width="2.5" stroke-linecap="round" stroke-linejoin="round"/>
<path transform="translate(577,733.9) scale(1)" d="M0,5.9 L5.6,0 V23" fill="none" stroke="#000" stroke-width="2.39" stroke-linecap="round" stroke-linejoin="round"/>
<path transform="translate(589.8,733.9) scale(1)" d="M5.5,0 L0,18.2 H13.4 M8.9,12.6 V23" fill="none" stroke="#000" stroke-width="2.39" stroke-linecap="round" stroke-linejoin="round"/>
<path transform="translate(977,779) scale(0.95)" d="M0,5.9 L5.6,0 V23" fill="none" stroke="#000" stroke-width="2.53" stroke-linecap="round" stroke-linejoin="round"/>
<path transform="translate(989.2,779) scale(0.95)" d="M0.1,5.2 A5.1,5.2 0 0 1 10.2,5.2 C10.2,8.5 8.8,10.5 6.8,13 L0,23 H10.4" fill="none" stroke="#000" stroke-width="2.53" stroke-linecap="round" stroke-linejoin="round"/>
<path transform="translate(977,876.2) scale(0.98)" d="M0,5.9 L5.6,0 V23" fill="none" stroke="#000" stroke-width="2.44" stroke-linecap="round" stroke-linejoin="round"/>
<path transform="translate(989.2,876.2) scale(0.98)" d="M0,0 H5.4 A5,5 0 0 1 5.4,10 H2.2 M5.4,10 A5,5 0 0 1 10.4,15 V18 A5,5 0 0 1 5.4,23 H0" fill="none" stroke="#000" stroke-width="2.44" stroke-linecap="round" stroke-linejoin="round"/>
<line x1="898.6" y1="54" x2="851.8" y2="54" stroke="#000" stroke-width="1.55"/>
<path d="M835.3,54 L851.8,49.6 L851.8,58.4 Z" fill="#000"/>
<line x1="705.9" y1="84.1" x2="741" y2="84.1" stroke="#000" stroke-width="1.55"/>
<path d="M757.5,84.1 L741,88.5 L741,79.7 Z" fill="#000"/>
<line x1="905" y1="97.5" x2="849.2" y2="97.5" stroke="#000" stroke-width="1.55"/>
<path d="M832.7,97.5 L849.2,93.1 L849.2,101.9 Z" fill="#000"/>
<line x1="608" y1="441.8" x2="703.6" y2="441.8" stroke="#000" stroke-width="1.55"/>
<line x1="703.6" y1="441.8" x2="704.95" y2="442.28" stroke="#000" stroke-width="1.55"/>
<path d="M720.5,447.8 L703.48,446.43 L706.42,438.13 Z" fill="#000"/>
<line x1="974" y1="444.3" x2="883.6" y2="444.3" stroke="#000" stroke-width="1.55"/>
<line x1="883.6" y1="444.3" x2="879.47" y2="445.48" stroke="#000" stroke-width="1.55"/>
<path d="M863.6,450 L878.26,441.25 L880.67,449.71 Z" fill="#000"/>
<line x1="758.5" y1="517.5" x2="758.5" y2="504" stroke="#000" stroke-width="1.55"/>
<path d="M758.5,487.5 L762.9,504 L754.1,504 Z" fill="#000"/>
<line x1="867.3" y1="517.5" x2="867.3" y2="485.5" stroke="#000" stroke-width="1.55"/>
<path d="M867.3,469 L871.7,485.5 L862.9,485.5 Z" fill="#000"/>
<line x1="611" y1="745.2" x2="699" y2="745.2" stroke="#000" stroke-width="1.55"/>
<path d="M715.5,745.2 L699,749.6 L699,740.8 Z" fill="#000"/>
<line x1="968" y1="789.2" x2="899.2" y2="789.2" stroke="#000" stroke-width="1.55"/>
<path d="M882.7,789.2 L899.2,784.8 L899.2,793.6 Z" fill="#000"/>
<line x1="968" y1="886.8" x2="896" y2="886.8" stroke="#000" stroke-width="1.55"/>
<path d="M879.5,886.8 L896,882.4 L896,891.2 Z" fill="#000"/>
<line x1="760.5" y1="102.5" x2="760.5" y2="170" stroke="#e0d000" stroke-width="1.5" style="mix-blend-mode:multiply"/>
<line x1="771.5" y1="90.5" x2="771.5" y2="158.5" stroke="#e0d000" stroke-width="1.5" style="mix-blend-mode:multiply"/>
<line x1="782.5" y1="109.5" x2="782.5" y2="177.7" stroke="#e0d000" stroke-width="1.5" style="mix-blend-mode:multiply"/>
<line x1="802.8" y1="51.5" x2="802.8" y2="157.3" stroke="#e0d000" stroke-width="1.5" style="mix-blend-mode:multiply"/>
<line x1="820.5" y1="107.5" x2="820.5" y2="177" stroke="#e0d000" stroke-width="1.5" style="mix-blend-mode:multiply"/>
<line x1="825.5" y1="59" x2="825.5" y2="164.8" stroke="#e0d000" stroke-width="1.5" style="mix-blend-mode:multiply"/>
<line x1="831.2" y1="101.5" x2="831.2" y2="170.9" stroke="#e0d000" stroke-width="1.5" style="mix-blend-mode:multiply"/>
<line x1="718.2" y1="398" x2="718.2" y2="462" stroke="#e0d000" stroke-width="1.5" style="mix-blend-mode:multiply"/>
<line x1="734.5" y1="400" x2="734.5" y2="446" stroke="#e0d000" stroke-width="1.5" style="mix-blend-mode:multiply"/>
<line x1="758.5" y1="404" x2="758.5" y2="482" stroke="#e0d000" stroke-width="1.5" style="mix-blend-mode:multiply"/>
<line x1="785.5" y1="405" x2="785.5" y2="438" stroke="#e0d000" stroke-width="1.5" style="mix-blend-mode:multiply"/>
<line x1="826" y1="404" x2="826" y2="442" stroke="#e0d000" stroke-width="1.5" style="mix-blend-mode:multiply"/>
<line x1="857" y1="398" x2="857" y2="451" stroke="#e0d000" stroke-width="1.5" style="mix-blend-mode:multiply"/>
<line x1="867.3" y1="394" x2="867.3" y2="463" stroke="#e0d000" stroke-width="1.5" style="mix-blend-mode:multiply"/>
<line x1="792.3" y1="405" x2="792.3" y2="626" stroke="#e0d000" stroke-width="1.5" style="mix-blend-mode:multiply"/>
<line x1="710.5" y1="595.5" x2="710.5" y2="629.7" stroke="#e0d000" stroke-width="1.5" style="mix-blend-mode:multiply"/>
<line x1="746" y1="567.7" x2="746" y2="600.8" stroke="#e0d000" stroke-width="1.5" style="mix-blend-mode:multiply"/>
<line x1="813.9" y1="564" x2="813.9" y2="597.5" stroke="#e0d000" stroke-width="1.5" style="mix-blend-mode:multiply"/>
<line x1="847.3" y1="571.6" x2="847.3" y2="605.2" stroke="#e0d000" stroke-width="1.5" style="mix-blend-mode:multiply"/>
<line x1="873.9" y1="581.8" x2="873.9" y2="616.1" stroke="#e0d000" stroke-width="1.5" style="mix-blend-mode:multiply"/>
<line x1="737" y1="607" x2="737" y2="640" stroke="#e0d000" stroke-width="1.5" style="mix-blend-mode:multiply"/>
<line x1="770" y1="613.6" x2="770" y2="648" stroke="#e0d000" stroke-width="1.5" style="mix-blend-mode:multiply"/>
<line x1="862.7" y1="604" x2="862.7" y2="637.4" stroke="#e0d000" stroke-width="1.5" style="mix-blend-mode:multiply"/>
<line x1="710.8" y1="689" x2="710.8" y2="866" stroke="#e0d000" stroke-width="1.5" style="mix-blend-mode:multiply"/>
<line x1="733.2" y1="696" x2="733.2" y2="724" stroke="#e0d000" stroke-width="1.5" style="mix-blend-mode:multiply"/>
<line x1="736.8" y1="696.5" x2="736.8" y2="877" stroke="#e0d000" stroke-width="1.5" style="mix-blend-mode:multiply"/>
<line x1="746.4" y1="698" x2="746.4" y2="838" stroke="#e0d000" stroke-width="1.5" style="mix-blend-mode:multiply"/>
<line x1="770.3" y1="700" x2="770.3" y2="884" stroke="#e0d000" stroke-width="1.5" style="mix-blend-mode:multiply"/>
<line x1="814.1" y1="700.5" x2="814.1" y2="834" stroke="#e0d000" stroke-width="1.5" style="mix-blend-mode:multiply"/>
<line x1="847.3" y1="697" x2="847.3" y2="842" stroke="#e0d000" stroke-width="1.5" style="mix-blend-mode:multiply"/>
<line x1="862.7" y1="693" x2="862.7" y2="874" stroke="#e0d000" stroke-width="1.5" style="mix-blend-mode:multiply"/>
<line x1="874.2" y1="690" x2="874.2" y2="853" stroke="#e0d000" stroke-width="1.5" style="mix-blend-mode:multiply"/>
</svg></body></html>
